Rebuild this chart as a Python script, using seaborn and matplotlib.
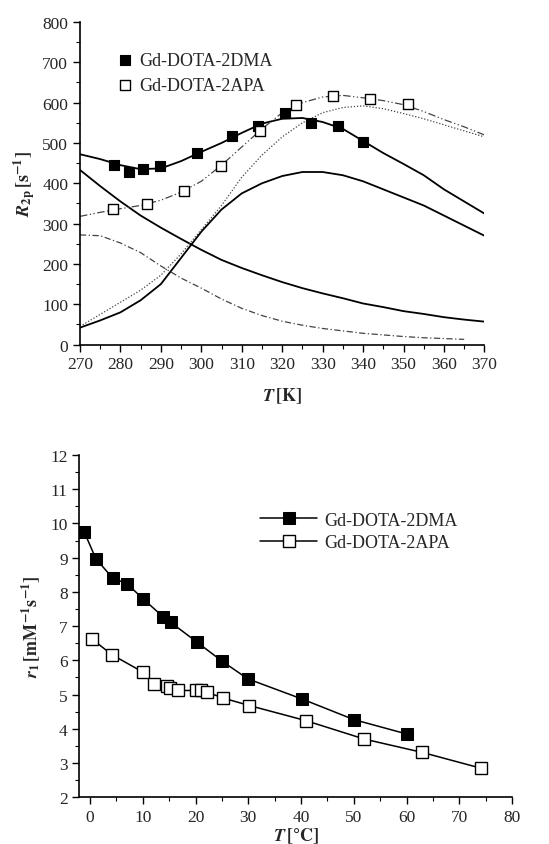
import matplotlib
matplotlib.use("Agg")
import matplotlib.pyplot as plt
from matplotlib.ticker import MultipleLocator
import seaborn as sns

# ---- top panel: R2p vs T [K] ----
t_dma = [278.5, 282.0, 285.6, 289.9, 299.0, 307.6, 314.1, 320.8, 327.2, 333.7, 340.1]
r2p_dma = [446, 428, 435, 443, 475, 517, 541, 574, 549, 542, 503]
t_apa = [278.1, 286.6, 295.7, 304.8, 314.4, 323.5, 332.6, 341.7, 351.1]
r2p_apa = [336, 348, 381, 442, 530, 595, 617, 609, 596]

t_fit = [270, 275, 280, 285, 290, 295, 300, 305, 310, 315, 320,
         325, 330, 335, 340, 345, 350, 355, 360, 365, 370]
fit_dma_total = [472, 460, 445, 435, 437, 455, 478, 500, 525, 548, 560,
                 562, 552, 535, 505, 475, 448, 420, 385, 355, 325]
fit_dma_rise = [42, 60, 80, 110, 150, 215, 280, 335, 375, 400, 418,
                428, 428, 420, 405, 385, 365, 345, 320, 295, 270]
fit_dma_fall = [433, 393, 355, 320, 290, 262, 235, 210, 190, 172, 155,
                140, 127, 115, 102, 93, 83, 76, 68, 62, 57]
fit_apa_total = [318, 328, 337, 345, 358, 378, 405, 445, 490, 535, 575,
                 600, 614, 618, 612, 605, 595, 578, 558, 540, 520]
fit_apa_rise = [45, 75, 105, 135, 172, 225, 285, 345, 415, 470, 515,
                550, 575, 588, 592, 585, 573, 560, 545, 530, 515]
t_fall_apa = t_fit[:-1]
fit_apa_fall = [272, 270, 252, 228, 195, 165, 140, 113, 90, 72, 58,
                48, 40, 34, 28, 24, 20, 17, 15, 13]

# ---- bottom panel: r1 vs T [°C] ----
tc_dma = [-1.1, 1.1, 4.3, 7.0, 10.1, 13.8, 15.3, 20.2, 25.0, 29.9, 40.2, 50.0, 60.0]
r1_dma = [9.75, 8.97, 8.40, 8.24, 7.79, 7.28, 7.11, 6.54, 5.98, 5.46, 4.87, 4.27, 3.85]
tc_apa = [0.3, 4.2, 10.1, 12.2, 14.6, 15.2, 16.6, 20.0, 21.0, 22.2, 25.2, 30.2,
          40.9, 52.0, 63.0, 74.1]
r1_apa = [6.63, 6.16, 5.65, 5.30, 5.25, 5.20, 5.12, 5.12, 5.12, 5.07, 4.90, 4.68,
          4.24, 3.70, 3.31, 2.85]

sns.set_style("ticks")
plt.rcParams["font.family"] = ["Liberation Serif", "DejaVu Serif"]
plt.rcParams["mathtext.fontset"] = "stix"
plt.rcParams["xtick.direction"] = "out"
plt.rcParams["ytick.direction"] = "out"

fig = plt.figure(figsize=(5.49, 8.45), dpi=100)
ax1 = fig.add_axes([0.1457, 0.591, 0.8823 - 0.1457, 0.9728 - 0.591])
ax2 = fig.add_axes([0.1448, 0.0553, 0.9326 - 0.1448, 0.4604 - 0.0553])

# top: fitted curves
kw = dict(ax=ax1, estimator=None, legend=False)
sns.lineplot(x=t_fit, y=fit_dma_total, color="black", lw=1.3, **kw)
sns.lineplot(x=t_fit, y=fit_dma_rise, color="black", lw=1.3, **kw)
sns.lineplot(x=t_fit, y=fit_dma_fall, color="black", lw=1.3, **kw)
sns.lineplot(x=t_fit, y=fit_apa_total, color="#444444", lw=0.9, **kw)
ax1.lines[-1].set_linestyle((0, (6, 2, 1, 2, 1, 2)))
sns.lineplot(x=t_fit, y=fit_apa_rise, color="#444444", lw=0.9, **kw)
ax1.lines[-1].set_linestyle((0, (1, 1.5)))
sns.lineplot(x=t_fall_apa, y=fit_apa_fall, color="#444444", lw=0.9, **kw)
ax1.lines[-1].set_linestyle((0, (5, 2, 1, 2)))

# top: measured points
sns.scatterplot(x=t_dma, y=r2p_dma, ax=ax1, marker="s", s=55, color="black",
                edgecolor="black", linewidth=0.8, label="Gd-DOTA-2DMA", zorder=5)
sns.scatterplot(x=t_apa, y=r2p_apa, ax=ax1, marker="s", s=55, color="white",
                edgecolor="black", linewidth=1.0, label="Gd-DOTA-2APA", zorder=5)

ax1.set_xlim(270, 370)
ax1.set_ylim(0, 800)
ax1.xaxis.set_major_locator(MultipleLocator(10))
ax1.xaxis.set_minor_locator(MultipleLocator(5))
ax1.yaxis.set_major_locator(MultipleLocator(100))
ax1.yaxis.set_minor_locator(MultipleLocator(50))
ax1.set_xlabel(r"$\mathbfit{T}\,\mathbf{[K]}$", fontsize=13, labelpad=9)
ax1.set_ylabel(r"$\mathbfit{R}_{\mathbf{2p}}\,\mathbf{[s^{-1}]}$", fontsize=13, labelpad=4)
ax1.legend(loc="upper left", bbox_to_anchor=(0.07, 0.93), frameon=False,
           fontsize=13, handletextpad=0.3, borderaxespad=0, labelspacing=0.45,
           handlelength=1.0)

# bottom: r1 with connecting lines
sns.lineplot(x=tc_dma, y=r1_dma, ax=ax2, color="black", lw=1.1, marker="s",
             markersize=8, markerfacecolor="black", markeredgecolor="black",
             estimator=None, sort=False, label="Gd-DOTA-2DMA")
sns.lineplot(x=tc_apa, y=r1_apa, ax=ax2, color="black", lw=1.1, marker="s",
             markersize=8, markerfacecolor="white", markeredgecolor="black",
             markeredgewidth=1.0, estimator=None, sort=False, label="Gd-DOTA-2APA")

ax2.set_xlim(-2, 80)
ax2.set_ylim(2, 12)
ax2.xaxis.set_major_locator(MultipleLocator(10))
ax2.xaxis.set_minor_locator(MultipleLocator(5))
ax2.yaxis.set_major_locator(MultipleLocator(1))
ax2.yaxis.set_minor_locator(MultipleLocator(0.5))
ax2.set_xlabel(r"$\mathbfit{T}\,\mathbf{[°C]}$", fontsize=13, labelpad=0)
ax2.set_ylabel(r"$\mathbfit{r}_{\mathbf{1}}\,\mathbf{[mM^{-1}s^{-1}]}$", fontsize=13, labelpad=6)
ax2.legend(loc="upper left", bbox_to_anchor=(0.40, 0.855), frameon=False,
           fontsize=13, handletextpad=0.4, borderaxespad=0, labelspacing=0.3,
           handlelength=3.2)

for ax in (ax1, ax2):
    sns.despine(ax=ax)
    ax.tick_params(which="major", length=5, width=1, labelsize=12.5, color="black")
    ax.tick_params(which="minor", length=3, width=0.8, color="black")
    for s in ("left", "bottom"):
        ax.spines[s].set_color("black")
        ax.spines[s].set_linewidth(1.2)

plt.savefig("out.png", dpi=100)
